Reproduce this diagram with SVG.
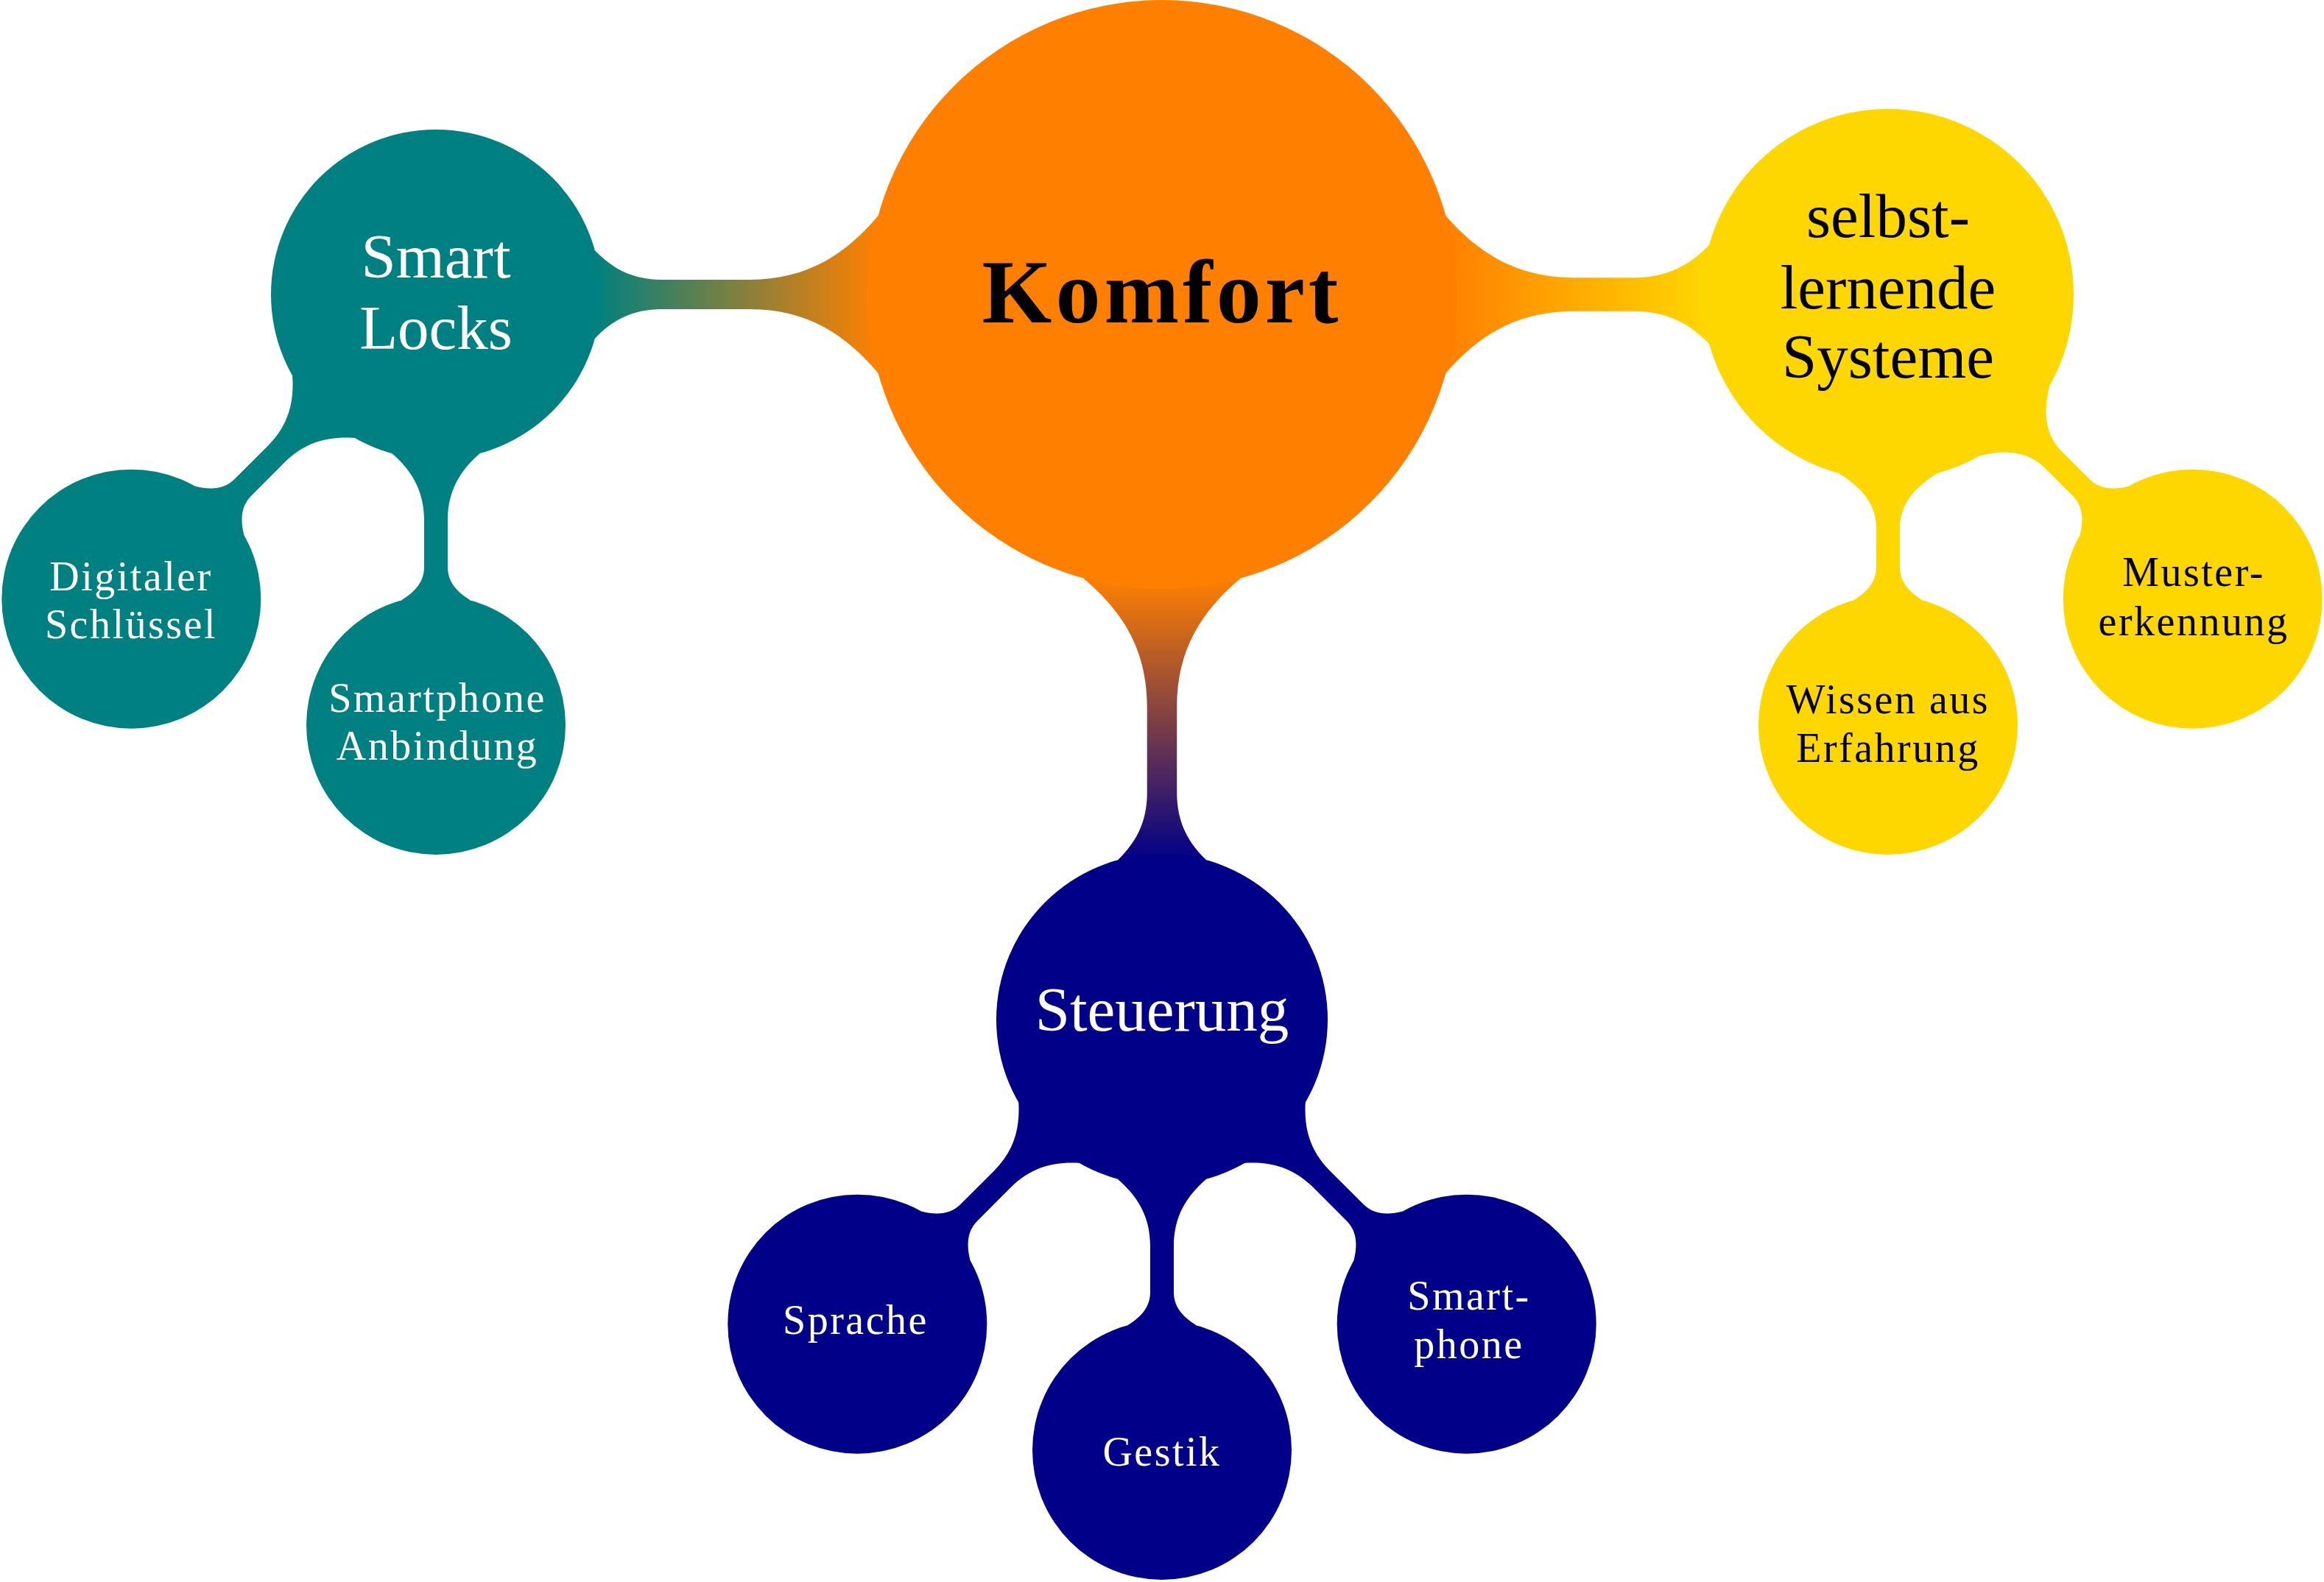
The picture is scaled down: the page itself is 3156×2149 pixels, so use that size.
<svg xmlns="http://www.w3.org/2000/svg" width="3156" height="2149" viewBox="0 0 3156 2149">
<style>
.t{font-family:"Liberation Serif","Times New Roman",serif;text-anchor:middle}
.l0{font-size:122px;font-weight:bold;letter-spacing:5px}
.l1{font-size:85px}
.l2{font-size:56px;letter-spacing:2.5px}
.w{fill:#ffffff}
.k{fill:#000000}
.teal{fill:#008080}
.orange{fill:#FF8000}
.gold{fill:#FFD700}
.navy{fill:#000088}
</style>
<defs>
<linearGradient id="gKS" gradientUnits="userSpaceOnUse" x1="1192.6" y1="0" x2="807.8" y2="0">
<stop offset="0" stop-color="#FF8000"/><stop offset="1" stop-color="#008080"/>
</linearGradient>
<linearGradient id="gKY" gradientUnits="userSpaceOnUse" x1="1963.4" y1="0" x2="2321.2" y2="0">
<stop offset="0" stop-color="#FF8000"/><stop offset="1" stop-color="#FFD700"/>
</linearGradient>
<linearGradient id="gKN" gradientUnits="userSpaceOnUse" x1="0" y1="785.4" x2="0" y2="1168.2">
<stop offset="0" stop-color="#FF8000"/><stop offset="1" stop-color="#000088"/>
</linearGradient>
</defs>
<rect width="3156" height="2149" fill="#ffffff"/>
<g id="connectors">
<path fill="url(#gKS)" d="M 807.8,340.1 C 830.6,364 857.9,380 898.9,380 L 1018,380 C 1096.6,380 1148.9,345 1192.6,293.1 L 1192.6,506.9 C 1148.9,455 1096.6,420 1018,420 L 898.9,420 C 857.9,420 830.6,436 807.8,459.9 Z"/>
<path fill="url(#gKY)" d="M 1963.4,293.1 C 2007.1,343.6 2059.4,377.3 2138,377.3 L 2218.8,377.3 C 2264.9,377.3 2295.6,359.5 2321.2,332.7 L 2321.2,467.3 C 2295.6,440.5 2264.9,422.7 2218.8,422.7 L 2138,422.7 C 2059.4,422.7 2007.1,456.4 1963.4,506.9 Z"/>
<path fill="url(#gKN)" d="M 1471.1,785.4 C 1523.1,829.1 1557.75,881.4 1557.75,960 L 1557.75,1076.75 C 1557.75,1117.9 1541.8,1145.3 1517.9,1168.2 L 1638.1,1168.2 C 1614.2,1145.3 1598.25,1117.9 1598.25,1076.75 L 1598.25,960 C 1598.25,881.4 1632.9,829.1 1684.9,785.4 Z"/>
<path class="teal" d="M 651.9,615.8 C 625.6,638.6 608,665.9 608,706.9 L 608,770.3 C 608,790.6 620.4,804.1 639,815.4 L 545,815.4 C 563.6,804.1 576,790.6 576,770.3 L 576,706.9 C 576,665.9 558.4,638.6 532.1,615.8 Z"/>
<path class="teal" d="M 481.8,594.9 C 447.0,592.5 415.3,599.3 386.3,628.3 L 341.5,673.2 C 327.1,687.5 326.3,705.8 331.5,727.0 L 265.0,660.5 C 286.2,665.7 304.5,664.9 318.8,650.5 L 363.7,605.7 C 392.7,576.7 399.5,545.0 397.1,510.2 Z"/>
<path class="navy" d="M 1638.1,1601.8 C 1611.6,1624.7 1594,1652.05 1594,1693.25 L 1594,1755.3 C 1594,1775.6 1606.4,1789.1 1625,1800.4 L 1531,1800.4 C 1549.6,1789.1 1562,1775.6 1562,1755.3 L 1562,1693.25 C 1562,1652.05 1544.4,1624.7 1517.9,1601.8 Z"/>
<path class="navy" transform="translate(986,985)" d="M 481.8,594.9 C 447.0,592.5 415.3,599.3 386.3,628.3 L 341.5,673.2 C 327.1,687.5 326.3,705.8 331.5,727.0 L 265.0,660.5 C 286.2,665.7 304.5,664.9 318.8,650.5 L 363.7,605.7 C 392.7,576.7 399.5,545.0 397.1,510.2 Z"/>
<path class="navy" transform="translate(2170,985) scale(-1,1)" d="M 481.8,594.9 C 447.0,592.5 415.3,599.3 386.3,628.3 L 341.5,673.2 C 327.1,687.5 326.3,705.8 331.5,727.0 L 265.0,660.5 C 286.2,665.7 304.5,664.9 318.8,650.5 L 363.7,605.7 C 392.7,576.7 399.5,545.0 397.1,510.2 Z"/>
<path class="gold" d="M 2631.3,642.8 C 2600.5,661.6 2580,684.2 2580,718 L 2580,770.3 C 2580,790.6 2592.4,804.1 2611,815.4 L 2517,815.4 C 2535.6,804.1 2548,790.6 2548,770.3 L 2548,718 C 2548,684.2 2527.5,661.6 2496.7,642.8 Z"/>
<path class="gold" d="M 2783.3,524.1 C 2774.8,559.2 2776.3,589.6 2800.2,613.5 L 2837.2,650.5 C 2851.5,664.9 2869.8,665.7 2891.0,660.5 L 2824.5,727.0 C 2829.7,705.8 2828.9,687.5 2814.5,673.2 L 2777.5,636.2 C 2753.6,612.3 2723.2,610.8 2688.1,619.3 Z"/>
</g>
<g id="komfort">
<circle class="orange" cx="1578" cy="400" r="400"/>
<text class="t l0 k" x="1578" y="438">Komfort</text>
</g>
<g id="smart-locks">
<circle class="teal" cx="592" cy="400" r="224"/>
<text class="t l1 w" x="592" y="377">Smart</text>
<text class="t l1 w" x="592" y="474">Locks</text>
</g>
<g id="selbstlernende-systeme">
<circle class="gold" cx="2564" cy="400" r="252"/>
<text class="t l1 k" x="2564" y="322">selbst-</text>
<text class="t l1 k" x="2564" y="419">lernende</text>
<text class="t l1 k" x="2564" y="513">Systeme</text>
</g>
<g id="steuerung">
<circle class="navy" cx="1578" cy="1385" r="225"/>
<text class="t l1 w" x="1578" y="1400">Steuerung</text>
</g>
<g id="digitaler-schluessel">
<circle class="teal" cx="178.3" cy="813.7" r="176"/>
<text class="t l2 w" x="178" y="802">Digitaler</text>
<text class="t l2 w" x="178" y="867">Schlüssel</text>
</g>
<g id="smartphone-anbindung">
<circle class="teal" cx="592" cy="985" r="176"/>
<text class="t l2 w" x="594" y="967">Smartphone</text>
<text class="t l2 w" x="594" y="1032">Anbindung</text>
</g>
<g id="wissen-aus-erfahrung">
<circle class="gold" cx="2564" cy="985" r="176"/>
<text class="t l2 k" x="2564" y="969">Wissen aus</text>
<text class="t l2 k" x="2564" y="1035">Erfahrung</text>
</g>
<g id="mustererkennung">
<circle class="gold" cx="2977.7" cy="813.7" r="176"/>
<text class="t l2 k" x="2979" y="796">Muster-</text>
<text class="t l2 k" x="2979" y="863">erkennung</text>
</g>
<g id="sprache">
<circle class="navy" cx="1164.3" cy="1798.7" r="176"/>
<text class="t l2 w" x="1162" y="1812">Sprache</text>
</g>
<g id="gestik">
<circle class="navy" cx="1578" cy="1970" r="176"/>
<text class="t l2 w" x="1578" y="1991">Gestik</text>
</g>
<g id="smartphone">
<circle class="navy" cx="1991.7" cy="1798.7" r="176"/>
<text class="t l2 w" x="1995" y="1779">Smart-</text>
<text class="t l2 w" x="1995" y="1845">phone</text>
</g>
</svg>
